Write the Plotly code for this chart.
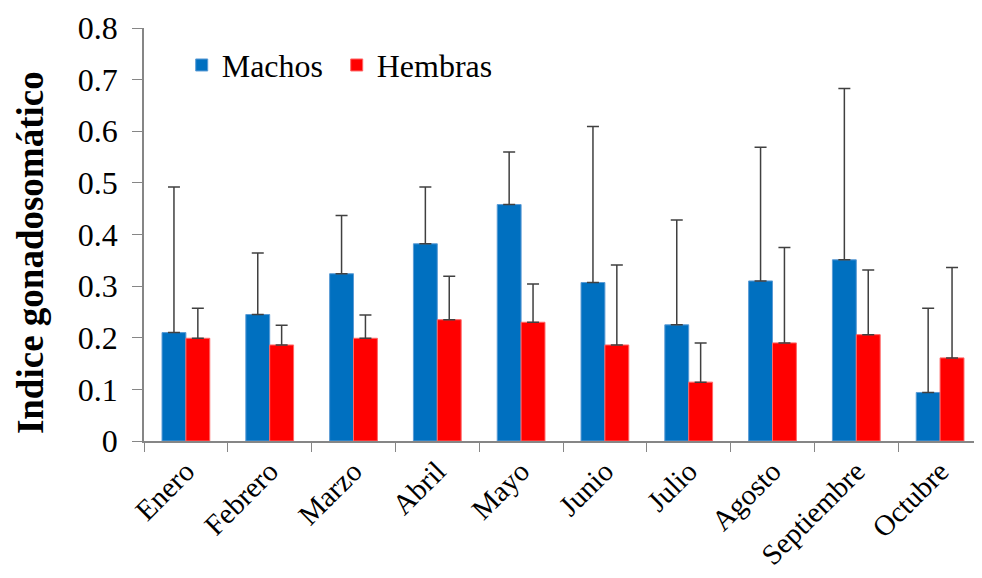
import plotly.graph_objects as go

# Meses muestreados
meses = ["Enero", "Febrero", "Marzo", "Abril", "Mayo",
         "Junio", "Julio", "Agosto", "Septiembre", "Octubre"]

# Indice gonadosomático medio
machos = [0.210, 0.245, 0.324, 0.382, 0.458, 0.307, 0.225, 0.310, 0.351, 0.094]
hembras = [0.199, 0.186, 0.199, 0.235, 0.230, 0.186, 0.114, 0.190, 0.206, 0.161]

# Desviación estándar (solo se dibuja hacia arriba)
machos_de = [0.282, 0.119, 0.113, 0.110, 0.102, 0.302, 0.203, 0.259, 0.332, 0.163]
hembras_de = [0.058, 0.038, 0.045, 0.084, 0.074, 0.155, 0.076, 0.185, 0.125, 0.175]

# Marcas del eje y
y_ticks = [0, 0.1, 0.2, 0.3, 0.4, 0.5, 0.6, 0.7, 0.8]
y_labels = ["0", "0.1", "0.2", "0.3", "0.4", "0.5", "0.6", "0.7", "0.8"]

serif = "Liberation Serif, Times New Roman, serif"

fig = go.Figure()

fig.add_trace(go.Bar(
    x=meses, y=machos, name="Machos",
    marker=dict(color="#0070C0", line=dict(color="#5B9BD5", width=1)),
    error_y=dict(type="data", array=machos_de, arrayminus=[0] * len(meses),
                 symmetric=False, color="#404040", thickness=1.5, width=6)
))

fig.add_trace(go.Bar(
    x=meses, y=hembras, name="Hembras",
    marker=dict(color="#FF0000", line=dict(color="#FF6666", width=1)),
    error_y=dict(type="data", array=hembras_de, arrayminus=[0] * len(meses),
                 symmetric=False, color="#404040", thickness=1.5, width=6)
))

# la página añade 8 px de margen, por eso el tamaño es 974x570
fig.update_layout(
    width=974, height=570,
    margin=dict(l=136, r=0, t=20, b=137),
    plot_bgcolor="white", paper_bgcolor="white",
    barmode="group", bargap=0.43, bargroupgap=0,
    font=dict(family=serif, size=32, color="black"),
    legend=dict(orientation="h", x=0.045, y=0.91, xanchor="left", yanchor="middle",
                font=dict(family=serif, size=32, color="black"),
                bgcolor="rgba(0,0,0,0)", itemwidth=30, entrywidth=110),
    showlegend=True,
)

# título del eje y como anotación (algo desplazado hacia abajo, como en el original)
fig.add_annotation(
    text="<b>Indice gonadosomático</b>", textangle=-90,
    xref="paper", yref="paper", x=-0.136, y=0.455,
    xanchor="center", yanchor="middle", showarrow=False,
    font=dict(family=serif, size=37, color="black"),
)

fig.update_xaxes(
    showline=True, linecolor="#868686", linewidth=1.5, automargin=False,
    ticks="outside", tickson="boundaries", ticklen=9, tickcolor="#868686",
    tickangle=-45, tickfont=dict(family=serif, size=29, color="black"), showgrid=False,
)

fig.update_yaxes(
    range=[0, 0.8], tickvals=y_ticks, ticktext=y_labels, automargin=False,
    showline=True, linecolor="#868686", linewidth=1.5,
    ticks="outside", ticklen=10, tickcolor="#868686", showgrid=False, zeroline=False,
    ticklabelstandoff=8, tickfont=dict(family=serif, size=32, color="black"),
)

fig.write_html("out.html")
